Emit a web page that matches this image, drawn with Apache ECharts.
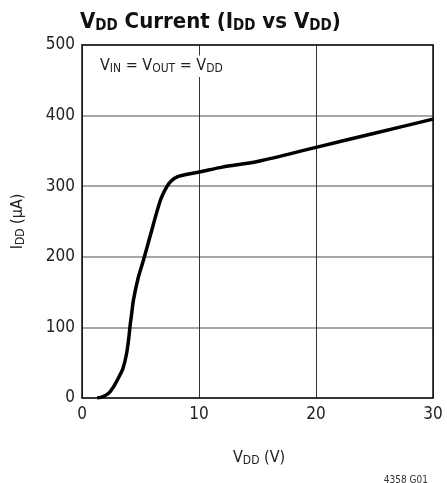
<!DOCTYPE html>
<html><head><meta charset="utf-8">
<script src="https://cdn.jsdelivr.net/npm/echarts@6/dist/echarts.min.js"></script>
<style>html,body{margin:0;padding:0;background:#fff}#c{width:447px;height:483px}</style>
</head><body><div id="c"></div>
<script>
var vdd = [1.3, 1.8, 2.3, 2.7, 3.1, 3.5, 3.8, 4.0, 4.1, 4.25, 4.4, 4.8, 5.25, 5.8, 6.7, 7.2, 7.6, 8.1, 9.0, 10, 12, 15, 20, 25, 30];
var idd = [0, 2, 7, 16, 28, 42, 62, 85, 101, 120, 139, 170, 195, 228, 280, 298, 307, 313, 317, 320, 327, 335, 355, 375, 395];
var xTicks = [0, 10, 20, 30];
var yTicks = [0, 100, 200, 300, 400, 500];

var FONT = '"Liberation Sans Narrow","DejaVu Sans Condensed","Liberation Sans",sans-serif';
var pts = vdd.map(function (v, i) { return [v, idd[i]]; });
var chart = echarts.init(document.getElementById('c'));
var lab = {
  n: { fontFamily: FONT, fontSize: 16, fontWeight: 'normal', color: '#222' },
  s: { fontFamily: FONT, fontSize: 12, fontWeight: 'normal', color: '#222', padding: [7, 0, 0, 0] }
};
chart.setOption({
  animation: false,
  backgroundColor: '#fff',
  title: [{
    text: '{b|V}{s|DD}{b| Current (I}{s|DD}{b| vs V}{s|DD}{b|)}',
    left: 75, top: 5,
    textStyle: {
      rich: {
        b: { fontFamily: FONT, fontWeight: 'bold', fontSize: 22, color: '#111' },
        s: { fontFamily: FONT, fontWeight: 'bold', fontSize: 15, color: '#111', padding: [9, 0, 0, 0] }
      }
    }
  }, {
    text: '{n|V}{s|IN}{n| = V}{s|OUT}{n| = V}{s|DD}',
    left: 96, top: 54,
    backgroundColor: '#fff',
    padding: [2, 4, 2, 4],
    textStyle: { fontWeight: 'normal', rich: lab }
  }, {
    text: '4358 G01',
    right: 14, top: 470,
    textStyle: { fontFamily: FONT, fontSize: 10, fontWeight: 'normal', color: '#333' }
  }, {
    text: '{n|V}{s|DD}{n| (V)}',
    left: 228, top: 443,
    textStyle: { fontWeight: 'normal', rich: lab }
  }],
  grid: { left: 82, right: 14, top: 45, bottom: 85, containLabel: false },
  xAxis: [{
    type: 'value', min: xTicks[0], max: xTicks[xTicks.length - 1], interval: 10,
    axisLine: { show: true, lineStyle: { color: '#111', width: 1.5 } },
    axisTick: { show: false },
    axisLabel: { fontFamily: FONT, fontSize: 17, color: '#222', margin: 8 },
    splitLine: { show: true, lineStyle: { color: '#333', width: 1 } }
  }, {
    type: 'value', position: 'top', min: 0, max: 30,
    axisLine: { show: true, onZero: false, lineStyle: { color: '#111', width: 1.5 } },
    axisTick: { show: false }, axisLabel: { show: false }, splitLine: { show: false }
  }],
  yAxis: [{
    type: 'value', min: yTicks[0], max: yTicks[yTicks.length - 1], interval: 100,
    name: '{n|I}{s|DD}{n| (µA)}',
    nameLocation: 'middle', nameGap: 55, nameRotate: 90,
    nameTextStyle: { rich: lab },
    axisLine: { show: true, lineStyle: { color: '#111', width: 1.5 } },
    axisTick: { show: false },
    axisLabel: { fontFamily: FONT, fontSize: 17, color: '#222', margin: 7 },
    splitLine: { show: true, lineStyle: { color: '#888', width: 1.5 } }
  }, {
    type: 'value', position: 'right', min: 0, max: 500,
    axisLine: { show: true, onZero: false, lineStyle: { color: '#111', width: 1.5 } },
    axisTick: { show: false }, axisLabel: { show: false }, splitLine: { show: false }
  }],
  series: [{
    type: 'line', data: pts, smooth: 0.3, symbol: 'none',
    lineStyle: { color: '#000', width: 3.5 }
  }]
});
</script></body></html>
